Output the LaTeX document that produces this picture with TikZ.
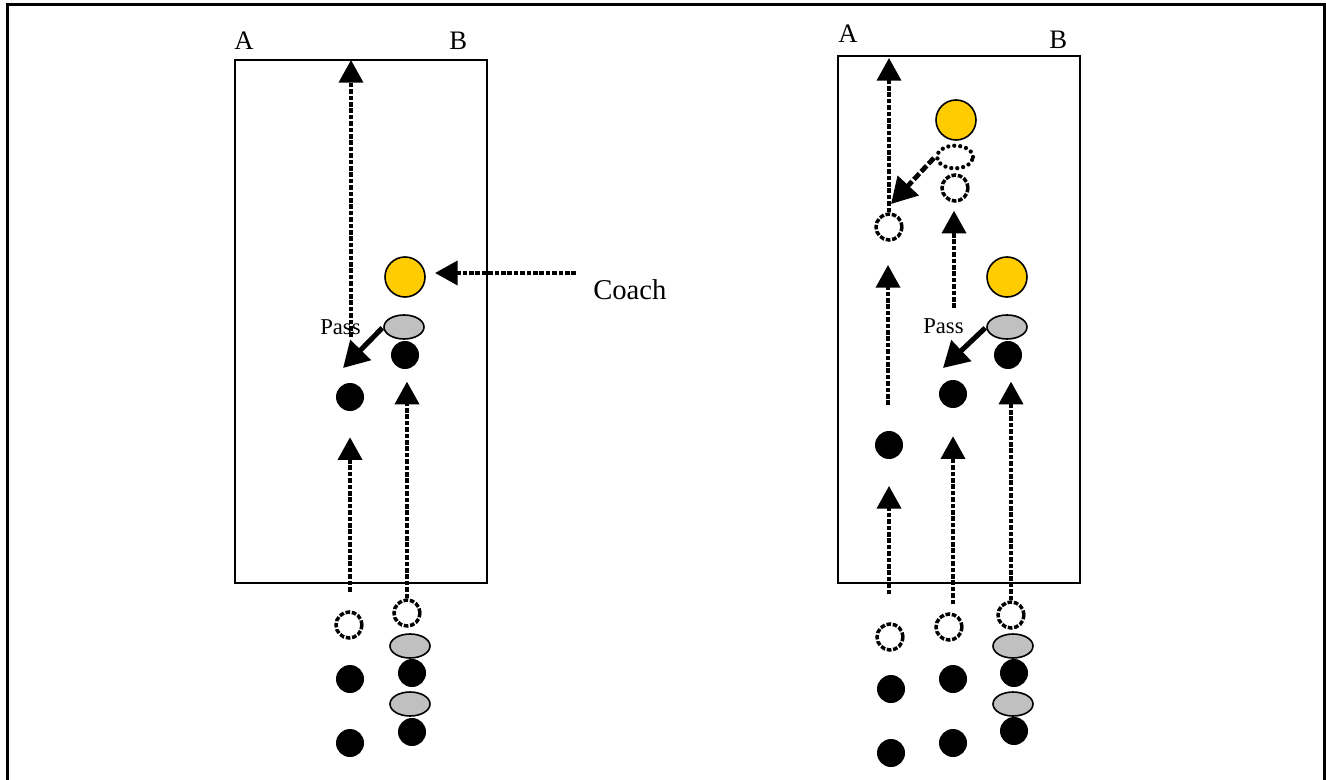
\documentclass[tikz,border=0pt]{standalone}
\usepackage{fontspec}
\setmainfont{Liberation Serif}
\usetikzlibrary{arrows.meta,shapes.geometric}
\definecolor{coachyellow}{HTML}{FFCC00}
\definecolor{ballgray}{HTML}{C0C0C0}
\begin{document}
\begin{tikzpicture}[x=0.75pt,y=-0.75pt,
  frameline/.style={line width=2.6pt},
  court/.style={draw,line width=1.2pt},
  lbl/.style={font=\fontsize{20}{24}\selectfont,inner sep=0pt,anchor=base west},
  coachlbl/.style={font=\fontsize{21.5}{26}\selectfont,inner sep=0pt,anchor=base west},
  passlbl/.style={font=\fontsize{17}{20}\selectfont,inner sep=0pt,anchor=base west},
  player/.style={circle,fill=black,inner sep=0pt,minimum size=21pt},
  ghost/.style={circle,draw,line width=2.6pt,dash pattern=on 3.5pt off 1.3pt,inner sep=0pt,minimum size=19.5pt},
  coachdot/.style={circle,draw,line width=1.2pt,fill=coachyellow,inner sep=0pt,minimum size=30pt},
  ball/.style={ellipse,draw,line width=1.2pt,fill=ballgray,inner sep=0pt,minimum width=30pt,minimum height=18pt},
  ghostball/.style={ellipse,draw,line width=3.2pt,dash pattern=on 0pt off 4.5pt,line cap=round,inner sep=0pt,minimum width=27pt,minimum height=17pt},
  run/.style={draw,line width=2.8pt,dash pattern=on 3.5pt off 1.3pt,-{Triangle[length=17pt,width=18pt]}},
  pass/.style={draw,line width=3.8pt,-{Triangle[length=19pt,width=21pt]}},
  dpass/.style={draw,line width=3.6pt,dash pattern=on 6pt off 2pt,-{Triangle[length=19pt,width=21pt]}}
]
\useasboundingbox (0,0) rectangle (1326,780);
% outer frame (open at the bottom)
\draw[frameline] (7.5,780) -- (7.5,4.5) -- (1324.5,4.5) -- (1324.5,780);

% ---------------- left court ----------------
\draw[court] (235,60) rectangle (487,583);
\node[lbl] (LA) at (234,50) {A};
\node[lbl] (LB) at (449,50) {B};
\node[coachlbl] (coach) at (593,300) {Coach};
\node[passlbl] (Lpass) at (320,334) {Pass};

\node[coachdot] (LC) at (405,277) {};
\node[player] (LP) at (405,355) {};
\node[ball] (LBall) at (404,327) {};
\node[player] (L1) at (350,397) {};

\node[ghost] (LD1) at (349,625) {};
\node[player] (LW1) at (350,679) {};
\node[player] (LW2) at (350,743) {};
\node[ghost] (LD2) at (407,613) {};
\node[player] (LX1) at (412,673) {};
\node[ball] (LXb1) at (410,646) {};
\node[player] (LX2) at (412,732) {};
\node[ball] (LXb2) at (410,704) {};

\coordinate (Lrunstart) at (351,337);
\coordinate (Lruntip) at (351,60);
\coordinate (Lpasstip) at (343,368);
\coordinate (coachstart) at (576,273);
\coordinate (coachtip) at (435,273);

\draw[run] (Lrunstart) -- (Lruntip);
\draw[pass,shorten <=1pt] (LBall.west) -- (Lpasstip);
\draw[run] (coachstart) -- (coachtip);
\draw[run,shorten <=14pt,shorten >=19.5pt] (LD1.north -| L1) -- (L1);
\draw[run,shorten >=20pt] (LD2.north) -- (LD2.north |- LP);

% ---------------- right court ----------------
\draw[court] (838,56) rectangle (1080,583);
\node[lbl] (RA) at (838,43) {A};
\node[lbl] (RB) at (1049,49) {B};
\node[passlbl] (Rpass) at (923,333) {Pass};

\node[coachdot] (RY1) at (956,120) {};
\node[ghostball] (RE) at (955,157) {};
\node[ghost] (RT1) at (889,227) {};
\node[ghost] (RT2) at (955,188) {};

\node[coachdot] (RY2) at (1007,277) {};
\node[player] (RP) at (1008,355) {};
\node[ball] (RBall) at (1007,327) {};
\node[player] (R2) at (953,394) {};
\node[player] (R1) at (889,445) {};

\node[ghost] (RD1) at (890,637) {};
\node[player] (RW1) at (891,689) {};
\node[player] (RW2) at (891,753) {};
\node[ghost] (RD2) at (949,627) {};
\node[player] (RM1) at (953,679) {};
\node[player] (RM2) at (953,743) {};
\node[ghost] (RD3) at (1011,615) {};
\node[player] (RX1) at (1014,673) {};
\node[ball] (RXb1) at (1013,646) {};
\node[player] (RX2) at (1014,731) {};
\node[ball] (RXb2) at (1013,704) {};

\coordinate (Rtoptip) at (889,58);
\coordinate (Rpasstip) at (943,368);
\coordinate (Rdpasstip) at (891,204);
\coordinate (Rmidstart) at (954,308);
\coordinate (Rleftstart) at (888,405);
\coordinate (Rlefttip) at (888,265);

\draw[run] (RT1.north) -- (Rtoptip);
\draw[dpass,shorten <=1pt] (RE.west) -- (Rdpasstip);
\draw[run,shorten >=6pt] (Rmidstart) -- (Rmidstart |- RT2.south);
\draw[run] (Rleftstart) -- (Rlefttip);
\draw[pass,shorten <=1pt] (RBall.west) -- (Rpasstip);
\draw[run,shorten <=21pt,shorten >=20pt] (RD1.north -| R1) -- (R1);
\draw[run,shorten <=6pt,shorten >=21pt] (RD2.north -| R2) -- (R2);
\draw[run,shorten >=20pt] (RD3.north) -- (RD3.north |- RP);
\end{tikzpicture}
\end{document}
